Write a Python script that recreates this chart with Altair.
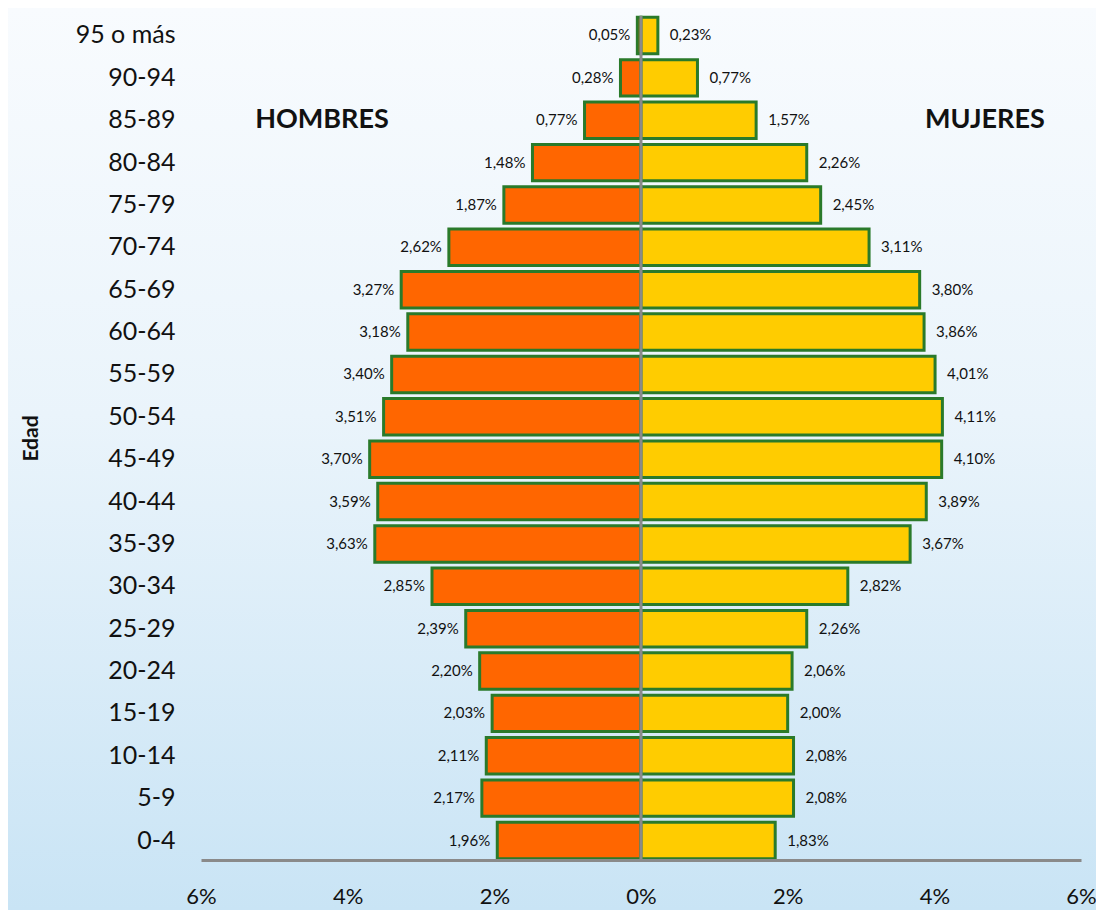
import altair as alt
import pandas as pd

ages = ["95 o más", "90-94", "85-89", "80-84", "75-79", "70-74", "65-69", "60-64",
        "55-59", "50-54", "45-49", "40-44", "35-39", "30-34", "25-29", "20-24",
        "15-19", "10-14", "5-9", "0-4"]
hombres = [0.05, 0.28, 0.77, 1.48, 1.87, 2.62, 3.27, 3.18, 3.40, 3.51, 3.70, 3.59,
           3.63, 2.85, 2.39, 2.20, 2.03, 2.11, 2.17, 1.96]
mujeres = [0.23, 0.77, 1.57, 2.26, 2.45, 3.11, 3.80, 3.86, 4.01, 4.11, 4.10, 3.89,
           3.67, 2.82, 2.26, 2.06, 2.00, 2.08, 2.08, 1.83]
x_ticks = [-6, -4, -2, 0, 2, 4, 6]

def fmt(v):
    return f"{v:.2f}".replace(".", ",") + "%"

df_h = pd.DataFrame({"edad": ages, "valor": [-v for v in hombres],
                     "label": [fmt(v) for v in hombres]})
df_m = pd.DataFrame({"edad": ages, "valor": mujeres,
                     "label": [fmt(v) for v in mujeres]})

FONT = "Lato"
LEFT, W, RIGHT = 193, 880, 15
H = 844

y_scale = alt.Scale(domain=ages, paddingInner=0.14, paddingOuter=0.03)
y_enc = alt.Y("edad:N", scale=y_scale,
              axis=alt.Axis(title="Edad", titleFontSize=21, titleFontWeight="bold",
                            titleFont=FONT, titleColor="#111", titlePadding=34,
                            labelFontSize=25, labelFont=FONT, labelColor="#111",
                            labelPadding=26, domain=False, ticks=False, grid=False,
                            zindex=2))
y_plain = alt.Y("edad:N", scale=y_scale)
x_scale = alt.Scale(domain=[-6, 6], nice=False)
x_enc = alt.X("valor:Q", scale=x_scale,
              axis=alt.Axis(title=None, values=x_ticks,
                            labelExpr="abs(datum.value) + '%'",
                            labelFontSize=22, labelFont=FONT, labelColor="#111",
                            labelPadding=26, labelFlush=False, ticks=False, grid=False,
                            domainColor="#8a8a8a", domainWidth=3, zindex=2))
x_plain = alt.X("valor:Q", scale=x_scale)

bg = alt.Chart(pd.DataFrame({"a": [0]})).mark_rect(
    fill={"gradient": "linear", "x1": 0, "y1": 0, "x2": 0, "y2": 1,
          "stops": [{"offset": 0, "color": "#f8fbfe"},
                    {"offset": 0.45, "color": "#eaf4fb"},
                    {"offset": 1, "color": "#c9e4f5"}]}
).encode(x=alt.value(-LEFT), x2=alt.value(W + RIGHT), y=alt.value(-8), y2=alt.value(H + 50))

bars_h = alt.Chart(df_h).mark_bar(color="#FF6600", stroke="#2A7A2A", strokeWidth=3).encode(
    x=x_enc, x2=alt.datum(0), y=y_enc)
bars_m = alt.Chart(df_m).mark_bar(color="#FFCC00", stroke="#2A7A2A", strokeWidth=3).encode(
    x=x_plain, x2=alt.datum(0), y=y_plain)

text_h = alt.Chart(df_h).mark_text(align="right", baseline="middle", dx=-7,
                                   fontSize=15, font=FONT, color="#111").encode(
    x=x_plain, y=y_plain, text="label:N")
text_m = alt.Chart(df_m).mark_text(align="left", baseline="middle", dx=12,
                                   fontSize=15, font=FONT, color="#111").encode(
    x=x_plain, y=y_plain, text="label:N")

center = alt.Chart(pd.DataFrame({"valor": [0]})).mark_rule(color="#8a8a8a", strokeWidth=3).encode(
    x=x_plain, y=alt.value(0), y2=alt.value(H))

titles = alt.Chart(pd.DataFrame({"t": ["HOMBRES", "MUJERES"], "valor": [-4.35, 4.69],
                                 "edad": ["85-89", "85-89"]})).mark_text(
    fontSize=27, fontWeight="bold", font=FONT, color="#111", align="center",
    baseline="middle").encode(
    x=x_plain, y=y_plain, text="t:N")

chart = alt.layer(bg, bars_h, bars_m, center, text_h, text_m, titles).properties(
    width=W, height=H,
    autosize=alt.AutoSizeParams(type="none"),
    padding={"left": LEFT, "top": 8, "right": RIGHT, "bottom": 50},
    background="#f4f9fd",
).configure_view(stroke=None)

chart.save("out.html", embed_options={"renderer": "svg", "actions": False})
